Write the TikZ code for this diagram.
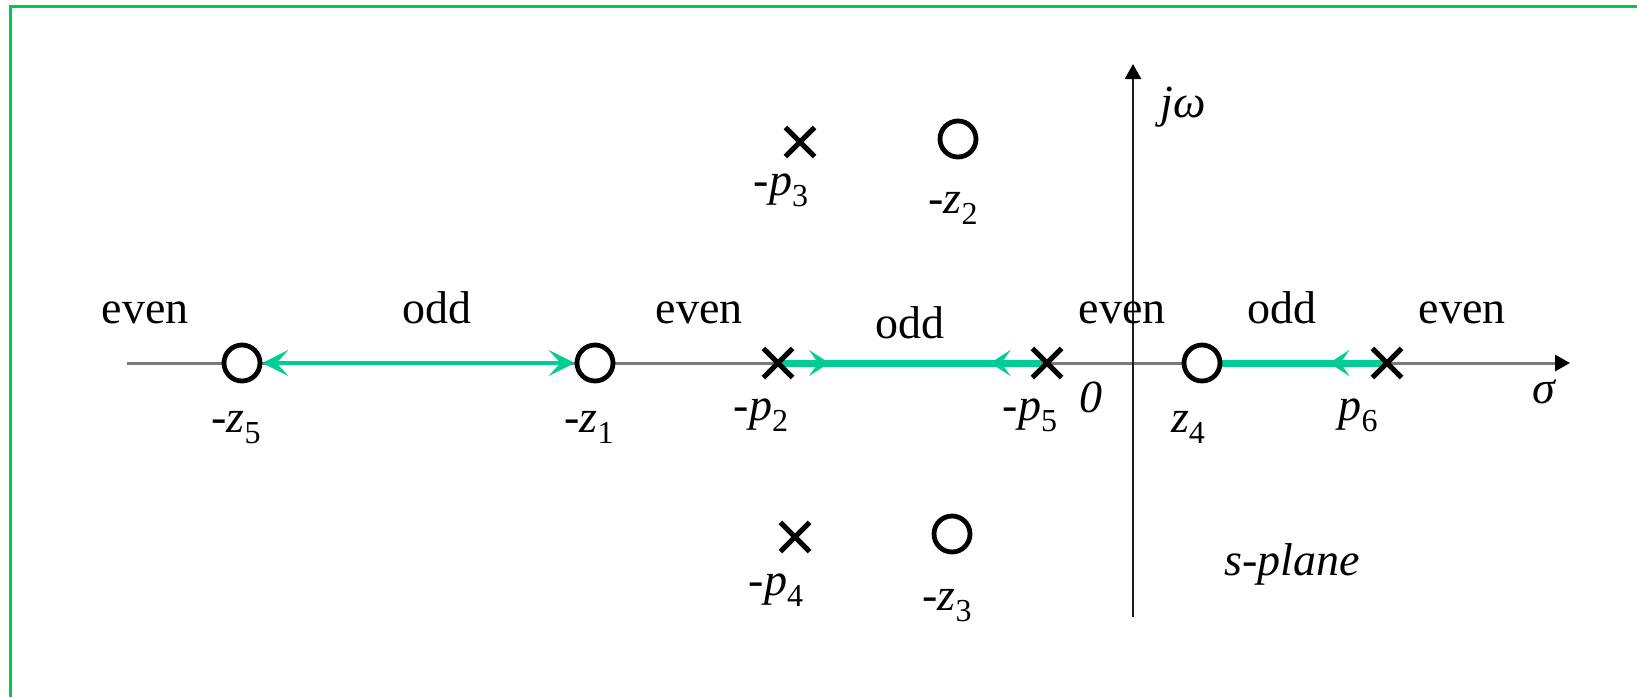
\documentclass[tikz,border=0pt]{standalone}
\usepackage{fontspec}
\setmainfont{Liberation Serif}
\usetikzlibrary{arrows.meta,shapes.misc,decorations.markings,backgrounds}
\definecolor{locusgreen}{RGB}{0,204,150}
\definecolor{framegreen}{RGB}{0,200,80}
\newcommand{\pzlabel}[2]{\textit{#1}\raisebox{-5.5pt}{\fontsize{16}{16}\selectfont #2}}

\begin{document}
\begin{tikzpicture}[
  x=0.5pt,y=-0.5pt,
  font=\fontsize{23}{27}\selectfont,
  zero/.style={draw,circle,line width=2.4pt,minimum size=18pt,inner sep=0pt,fill=white},
  pole/.style={draw,cross out,line width=2.6pt,minimum size=12pt,inner sep=0pt},
  lbl/.style={anchor=base,inner sep=0pt},
  axis/.style={line width=1.5pt,-{Triangle[length=7.5pt,width=8pt,color=black]}},
  locus/.style={locusgreen,line width=3.5pt},
  midtip/.tip={Stealth[length=10pt,width=13pt,inset=4.5pt,line width=0.1pt]},
  endtip/.tip={Stealth[length=13pt,width=13pt,inset=6pt,line width=0.1pt]}
]
\useasboundingbox (0,0) rectangle (1637,697);
\draw[framegreen,line width=1.5pt] (10,697) -- (10,6.5) -- (1637,6.5);

% axes
\coordinate (xs) at (127,363);
\coordinate (xe) at (1570,363);
\coordinate (ys) at (1133,617);
\coordinate (ye) at (1133,64);

% zeros and poles
\node[zero] (z5) at (242,363) {};
\node[zero] (z1) at (595,363) {};
\node[zero] (z4) at (1202,363) {};
\node[zero] (z2) at (958,139) {};
\node[zero] (z3) at (952,534) {};
\node[pole] (p2) at (778,363) {};
\node[pole] (p5) at (1047,363) {};
\node[pole] (p6) at (1387,363) {};
\node[pole] (p3) at (800,142) {};
\node[pole] (p4) at (795,537) {};

\begin{scope}[on background layer]
\draw[axis,black!52] (xs) -- (xe);
\draw[axis,black!88,line width=1.3pt] (ys) -- (ye);
\draw[locusgreen,line width=2pt,endtip-endtip] (z5) -- (z1);
\draw[locus,postaction={decorate},decoration={markings,
  mark=at position 0.19 with {\arrow{midtip}},
  mark=at position 0.79 with {\arrowreversed{midtip}}}]
  (p2.center) -- (p5.center);
\draw[locus,postaction={decorate},decoration={markings,
  mark=at position 0.35 with {\arrow{midtip}}}]
  (p6.center) -- (z4);
\end{scope}

% labels
\node[lbl] (lz5) at (236,432) {-\pzlabel{z}{5}};
\node[lbl] (lz1) at (589,432) {-\pzlabel{z}{1}};
\node[lbl] (lp2) at (761,420) {-\pzlabel{p}{2}};
\node[lbl] (lp5) at (1030,420) {-\pzlabel{p}{5}};
\node[lbl] (l0) at (1091,412) {\textit{0}};
\node[lbl] (lz4) at (1188,432) {\pzlabel{z}{4}};
\node[lbl] (lp6) at (1358,420) {\pzlabel{p}{6}};
\node[lbl] (lp3) at (781,195) {-\pzlabel{p}{3}};
\node[lbl] (lz2) at (953,213) {-\pzlabel{z}{2}};
\node[lbl] (lp4) at (776,595) {-\pzlabel{p}{4}};
\node[lbl] (lz3) at (947,610) {-\pzlabel{z}{3}};
\node[lbl] (sig) at (1545,403) {\textit{σ}};
\node[lbl] (jw) at (1183,117) {\textit{jω}};
\node[lbl] (splane) at (1292,575) {\textit{s-plane}};

% regions on the real axis
\node[lbl] (e1) at (145,323) {even};
\node[lbl] (o1) at (437,323) {odd};
\node[lbl] (e2) at (699,323) {even};
\node[lbl] (o2) at (910,338) {odd};
\node[lbl] (e3) at (1122,323) {even};
\node[lbl] (o3) at (1282,323) {odd};
\node[lbl] (e4) at (1462,323) {even};
\end{tikzpicture}
\end{document}
